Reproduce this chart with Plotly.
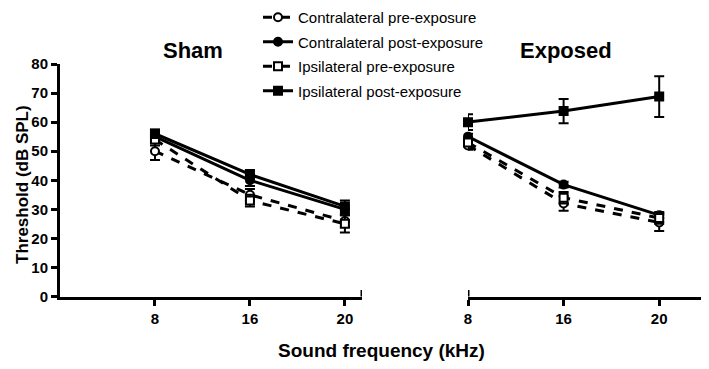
import plotly.graph_objects as go

freqs = ["8", "16", "20"]
series_names = ["Contralateral pre-exposure", "Contralateral post-exposure",
                "Ipsilateral pre-exposure", "Ipsilateral post-exposure"]

sham_contra_pre = [50, 35, 26]
sham_contra_pre_err = [3, 2, 2]
sham_contra_post = [55, 40, 30]
sham_contra_post_err = [1.5, 2, 1.5]
sham_ipsi_pre = [54, 33, 25]
sham_ipsi_pre_err = [2, 2, 3]
sham_ipsi_post = [56, 42, 31]
sham_ipsi_post_err = [1.5, 1.5, 2]

exp_contra_pre = [52, 32, 25.5]
exp_contra_pre_err = [1.5, 2.5, 3]
exp_contra_post = [55, 38.5, 28]
exp_contra_post_err = [1, 1, 1]
exp_ipsi_pre = [53, 34, 27]
exp_ipsi_pre_err = [2, 2, 2]
exp_ipsi_post = [60, 63.8, 68.8]
exp_ipsi_post_err = [2.7, 4.2, 7]

y_ticks = [0, 10, 20, 30, 40, 50, 60, 70, 80]

W, H = 709, 369
OFF = 8  # page body margin
def px(x): return (x - OFF) / W
def py(y): return 1 - (y - OFF) / H

styles = [
    dict(dash="dash", symbol="circle", fill="white"),
    dict(dash="solid", symbol="circle", fill="black"),
    dict(dash="dash", symbol="square", fill="white"),
    dict(dash="solid", symbol="square", fill="black"),
]

sham = [(sham_contra_pre, sham_contra_pre_err), (sham_contra_post, sham_contra_post_err),
        (sham_ipsi_pre, sham_ipsi_pre_err), (sham_ipsi_post, sham_ipsi_post_err)]
exposed = [(exp_contra_pre, exp_contra_pre_err), (exp_contra_post, exp_contra_post_err),
           (exp_ipsi_pre, exp_ipsi_pre_err), (exp_ipsi_post, exp_ipsi_post_err)]

fig = go.Figure()
for panel, (data, xa, ya) in enumerate([(sham, "x", "y"), (exposed, "x2", "y2")]):
    for i, (vals, errs) in enumerate(data):
        st = styles[i]
        fig.add_trace(go.Scatter(
            x=freqs, y=vals, xaxis=xa, yaxis=ya,
            name=series_names[i], legendgroup=series_names[i],
            showlegend=(panel == 0),
            mode="lines+markers",
            line=dict(color="black", width=3, dash=st["dash"]),
            marker=dict(symbol=st["symbol"], size=8, color=st["fill"],
                        line=dict(color="black", width=2)),
            error_y=dict(type="data", array=errs, color="black", thickness=2, width=5),
            cliponaxis=False,
        ))

FAM = "Liberation Sans, Arial, sans-serif"
tickfont = dict(family=FAM, size=15, color="black")
axis_common = dict(showline=True, linecolor="black", linewidth=3, ticks="outside",
                   tickwidth=3, ticklen=6, tickcolor="black", showgrid=False,
                   zeroline=False, tickfont=tickfont, automargin=False)

x_ticktext = ["<b>%s</b>" % f for f in freqs]
y_ticktext = ["<b>%d</b>" % v for v in y_ticks]

y_dom = [py(296.5), py(64)]
fig.update_layout(
    width=W, height=H,
    margin=dict(l=0, r=0, t=0, b=0, autoexpand=False),
    plot_bgcolor="white", paper_bgcolor="white",
    font=dict(family=FAM, color="black"),
    xaxis=dict(domain=[px(60), px(362)], type="category", range=[-1, 2.18],
               tickvals=freqs, ticktext=x_ticktext, anchor="y", **axis_common),
    yaxis=dict(domain=y_dom, range=[0, 80], tickvals=y_ticks, ticktext=y_ticktext,
               anchor="x", **axis_common),
    xaxis2=dict(domain=[px(468), px(707)], type="category", range=[0, 2.5],
                tickvals=freqs, ticktext=x_ticktext, anchor="y2", **axis_common),
    yaxis2=dict(domain=y_dom, range=[0, 80], anchor="x2", visible=False),
    legend=dict(x=px(258), y=1 + 7 / H, xanchor="left", yanchor="top",
                font=dict(size=15, family=FAM),
                tracegroupgap=2, bgcolor="rgba(0,0,0,0)", traceorder="grouped"),
    showlegend=True,
)

fig.add_shape(type="line", xref="x", yref="y", x0=2.18, x1=2.18, y0=-2.2, y1=2.2,
              line=dict(color="black", width=3))
fig.add_shape(type="line", xref="x2", yref="y2", x0=0, x1=0, y0=-2.2, y1=2.2,
              line=dict(color="black", width=3))

bold = dict(family=FAM, color="black")
ann = dict(xref="paper", yref="paper", showarrow=False, xanchor="center", yanchor="middle")
fig.add_annotation(text="<b>Sham</b>", x=px(193), y=py(51), font=dict(size=22, **bold), **ann)
fig.add_annotation(text="<b>Exposed</b>", x=px(566), y=py(51), font=dict(size=22, **bold), **ann)
fig.add_annotation(text="<b>Sound frequency (kHz)</b>", x=px(382), y=py(350),
                   font=dict(size=19, **bold), **ann)
fig.add_annotation(text="<b>Threshold (dB SPL)</b>", x=px(22), y=py(185), textangle=-90,
                   font=dict(size=17, **bold), **ann)

fig.write_html("out.html")
